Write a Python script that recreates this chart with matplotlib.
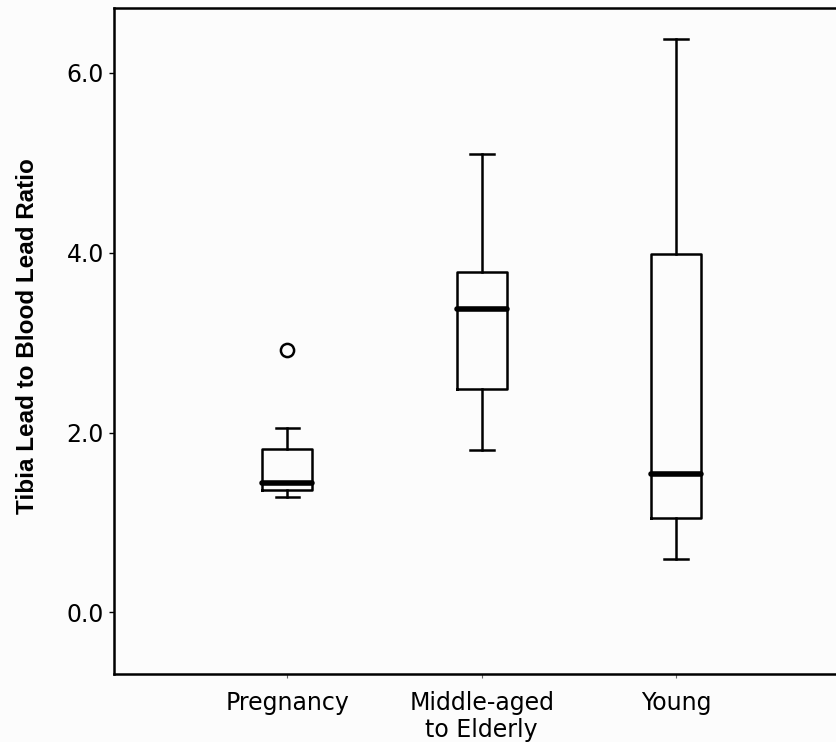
import matplotlib
matplotlib.use("Agg")
import matplotlib.pyplot as plt

# values (box-plot summary per group)
groups = ["Pregnancy", "Middle-aged\nto Elderly", "Young"]
whislo = [1.28, 1.81, 0.59]
q1 = [1.36, 2.48, 1.05]
med = [1.44, 3.37, 1.54]
q3 = [1.82, 3.78, 3.98]
whishi = [2.05, 5.10, 6.37]
fliers = [[2.92], [], []]

yticks = [0.0, 2.0, 4.0, 6.0]

bg = "#fcfcfc"
fig = plt.figure(figsize=(8.36, 7.42), dpi=100, facecolor=bg)
ax = fig.add_axes([114 / 836, 68 / 742, 1 - 114 / 836, 666 / 742], facecolor=bg)

stats = []
for i in range(len(groups)):
    stats.append(dict(label=groups[i], whislo=whislo[i], q1=q1[i], med=med[i],
                      q3=q3[i], whishi=whishi[i], fliers=fliers[i]))

ax.bxp(stats, positions=[1, 2, 3], widths=0.257, capwidths=0.123,
       boxprops=dict(color="black", linewidth=1.8),
       whiskerprops=dict(color="black", linewidth=1.8),
       capprops=dict(color="black", linewidth=1.8),
       medianprops=dict(color="black", linewidth=4, solid_capstyle="round"),
       flierprops=dict(marker="o", markersize=9.5, markerfacecolor="none",
                       markeredgecolor="black", markeredgewidth=1.8))

ax.set_xlim(0.107, 3.824)
ax.set_ylim(-0.684, 6.72)
ax.set_yticks(yticks)
ax.set_yticklabels(["%.1f" % v for v in yticks])

ax.spines["right"].set_visible(False)
for s in ["left", "top", "bottom"]:
    ax.spines[s].set_linewidth(1.8)

ax.tick_params(axis="y", direction="out", length=3.6, width=1.0, pad=3.6,
               labelsize=17, colors="black")
ax.tick_params(axis="x", direction="out", length=3, width=0.8, pad=9,
               labelsize=17, color="#666666", labelcolor="black")
for t in ax.get_xticklabels():
    t.set_linespacing(1.2)

fig.text(28 / 836, 1 - 336 / 742, "Tibia Lead to Blood Lead Ratio",
         rotation=90, ha="center", va="center", fontsize=17.5, fontweight="bold",
         family=["Liberation Sans", "DejaVu Sans"])

fig.savefig("out.png", dpi=100, facecolor=bg)
